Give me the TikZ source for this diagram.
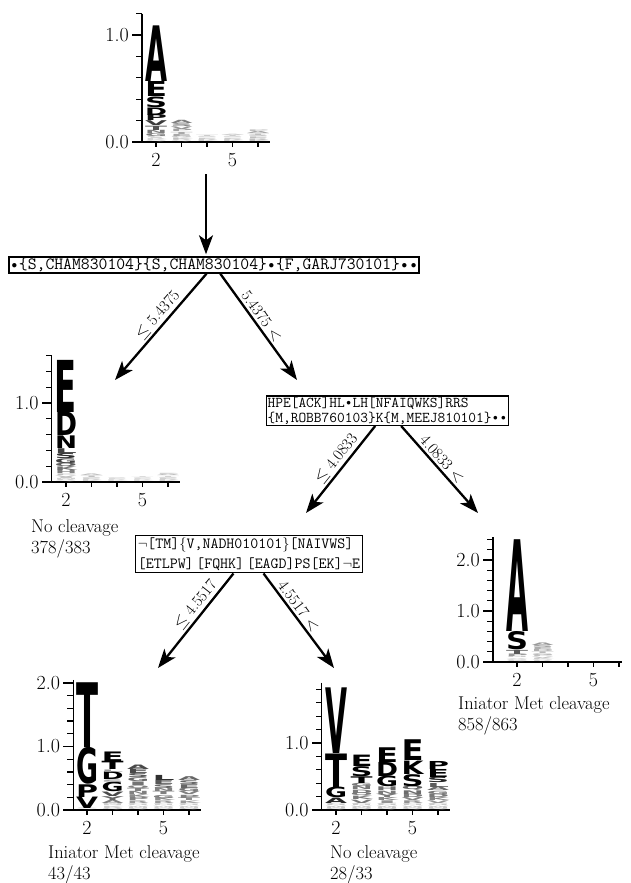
\documentclass[tikz,border=0pt]{standalone}
\usepackage{fontspec}
\usepackage{graphicx}
\usetikzlibrary{arrows.meta}
\newfontfamily\logofont{DejaVu Sans}

\newcommand{\wild}{\makebox[0.525em]{\raisebox{0.09em}{\scalebox{0.65}{$\bullet$}}}}
\newcommand{\logocol}[2]{%
  \gdef\ybase{0}%
  \foreach \res/\bits in {#2} {%
    \pgfmathsetlengthmacro\lh{\bits*\lu}%
    \pgfmathtruncatemacro\tone{min(100,max(15,16*\bits*\lu))}%
    \node[inner sep=0pt, anchor=south, text=black!\tone] at (#1,\ybase) {\resizebox*{22pt}{\lh}{\logofont\bfseries\res}};%
    \pgfmathparse{\ybase+\bits}\xdef\ybase{\pgfmathresult}%
  }}
\newcommand{\logoaxes}[5]{%
  \draw[axisline] (#1,#3) -- (#1,0) -- (#2,0);
  \foreach \k in {0,...,#4} \draw[axisline] (#1,\k/5) -- ++(-6pt,0);
  \foreach \v in {#5} {
    \draw[axisline] (#1,\v) -- ++(-10pt,0);
    \node[ticklab, anchor=east] at ([xshift=-12pt]#1,\v) {\v.0};}
  \foreach \c in {2,...,6} \draw[axisline] (\c,0) -- ++(0,-5pt);
  \foreach \c in {2,5} \node[ticklab] at ([yshift=-18pt]\c,0) {\c};}

\begin{document}
\begin{tikzpicture}[x=1pt, y=-1pt,
  rulebox/.style={draw, line width=1.5pt, inner sep=1pt, align=left, font=\ttfamily\fontsize{15}{15}\selectfont},
  split/.style={-{Stealth[length=19pt,width=14pt,inset=5pt]}, line width=2.3pt},
  cut/.style={sloped, above, pos=0.45, inner sep=2pt, font=\fontsize{16}{16}\selectfont},
  axisline/.style={line width=1.3pt},
  ticklab/.style={inner sep=1pt, font=\fontsize{20}{20}\selectfont},
  caption/.style={anchor=north west, align=left, inner sep=0pt, font=\fontsize{18.5}{21}\selectfont}]
\useasboundingbox (0,0) rectangle (630,883);

\begin{scope}[shift={(105pt,-142pt)}, x=25.5pt, y=107pt]
  \def\lu{107}
  \logoaxes{1.45}{6.47}{1.2}{6}{0,1}
  \logocol{2}{Q/.01,K/.01,R/.01,I/.01,L/.01,G/.03,N/.03,T/.04,V/.045,P/.055,D/.07,S/.1,E/.14,A/.52}
  \logocol{3}{Q/.01,R/.012,K/.015,G/.015,E/.02,T/.02,P/.022,V/.025,S/.028,A/.03}
  \logocol{4}{K/.012,R/.012,E/.012,S/.012,T/.012}
  \logocol{5}{K/.012,R/.012,E/.012,S/.012,T/.012,A/.012}
  \logocol{6}{K/.015,R/.015,E/.015,S/.015,T/.015,A/.02,P/.015}
\end{scope}

\begin{scope}[shift={(15pt,-482pt)}, x=25.5pt, y=79pt]
  \def\lu{79}
  \logoaxes{1.44}{6.47}{1.6}{8}{0,1}
  \logocol{2}{Q/.012,R/.015,M/.015,I/.018,V/.02,P/.02,H/.04,K/.045,Q/.05,G/.06,S/.065,L/.06,N/.16,D/.3,E/.66}
  \logocol{3}{K/.015,R/.015,E/.015,S/.015,T/.02,A/.02}
  \logocol{4}{K/.012,R/.012,E/.012,S/.012}
  \logocol{5}{K/.012,R/.012,E/.012,S/.012,T/.012}
  \logocol{6}{K/.015,R/.015,E/.015,S/.015,T/.015,A/.02,P/.015}
\end{scope}

\begin{scope}[shift={(466pt,-662pt)}, x=25.5pt, y=51pt]
  \def\lu{51}
  \logoaxes{1.06}{6.12}{2.45}{12}{0,1,2}
  \logocol{2}{Q/.015,K/.02,G/.02,V/.02,N/.025,P/.05,T/.08,S/.36,A/1.8}
  \logocol{3}{R/.02,Q/.02,K/.025,V/.03,P/.03,G/.035,T/.035,D/.04,E/.04,S/.045,A/.05}
\end{scope}

\begin{scope}[shift={(36pt,-810pt)}, x=25.5pt, y=63.5pt]
  \def\lu{63.5}
  \logoaxes{1.46}{6.47}{2.05}{10}{0,1,2}
  \logocol{2}{Q/.01,K/.01,V/.18,P/.2,G/.58,T/1.02}
  \logocol{3}{Q/.02,R/.02,K/.02,N/.02,M/.02,A/.05,Y/.06,V/.07,G/.15,S/.04,D/.12,L/.04,T/.13,E/.15}
  \logocol{4}{Q/.02,M/.02,W/.02,H/.02,C/.02,R/.04,P/.05,K/.045,N/.05,T/.05,Q/.05,I/.055,G/.06,S/.065,E/.07,A/.07}
  \logocol{5}{Q/.02,M/.02,W/.02,H/.02,C/.02,R/.04,K/.045,G/.05,T/.05,N/.05,S/.06,E/.065,L/.08}
  \logocol{6}{Q/.02,M/.02,W/.02,H/.02,C/.02,K/.04,T/.045,P/.05,V/.05,G/.055,E/.06,S/.06,A/.06}
\end{scope}

\begin{scope}[shift={(285pt,-810pt)}, x=25.5pt, y=67pt]
  \def\lu{67}
  \logoaxes{1.44}{6.47}{1.9}{9}{0,1}
  \logocol{2}{Q/.02,M/.02,W/.02,H/.02,C/.02,A/.08,G/.16,T/.5,V/.98}
  \logocol{3}{Q/.02,M/.02,W/.02,H/.02,C/.02,V/.05,K/.05,Q/.05,D/.05,N/.05,G/.05,T/.1,S/.15,E/.17}
  \logocol{4}{Q/.02,M/.02,W/.02,H/.02,C/.02,I/.04,K/.045,Y/.05,N/.05,H/.055,G/.16,D/.21,E/.22}
  \logocol{5}{Q/.02,M/.02,W/.02,H/.02,C/.02,R/.04,V/.045,D/.05,N/.055,Q/.06,S/.18,K/.2,E/.31}
  \logocol{6}{Q/.02,M/.02,W/.02,H/.02,C/.02,V/.04,K/.045,D/.05,G/.05,A/.055,L/.06,S/.08,E/.12,P/.12}
\end{scope}

\node[rulebox, inner sep=0.8pt, font=\ttfamily\fontsize{17.2}{17.2}\selectfont] (r1) at (214,265)
  {\wild\{S,CHAM830104\}\{S,CHAM830104\}\wild\{F,GARJ730101\}\wild\wild};
\node[rulebox] (r2) at (387.5,410.5)
  {HPE[ACK]HL\wild LH[NFAIQWKS]RRS\\\{M,ROBB760103\}K\{M,MEEJ810101\}\wild\wild};
\node[rulebox, inner sep=2.5pt, font=\ttfamily\fontsize{15.5}{19.5}\selectfont] (r3) at (249,554)
  {$\neg$[TM]$\{$V,NADH010101$\}$[NAIVWS]\\{}[ETLPW]\,[FQHK]\,[EAGD]PS[EK]$\neg$E};

\coordinate (c0) at (206,174);
\coordinate (e1l) at (115,380);
\coordinate (e1r) at (297,380);
\coordinate (e2l) at (306,513);
\coordinate (e2r) at (478,513);
\coordinate (e3l) at (158,668);
\coordinate (e3r) at (334,668);

\draw[split, shorten >=2pt] (c0) -- (c0 |- r1.north);
\draw[split] (r1) -- node[cut] {$\leq$ 5.4375} (e1l);
\draw[split] (r1) -- node[cut] {5.4375 $<$} (e1r);
\draw[split] (r2) -- node[cut] {$\leq$ 4.0833} (e2l);
\draw[split] (r2) -- node[cut] {4.0833 $<$} (e2r);
\draw[split] (r3) -- node[cut, pos=0.4] {$\leq$ 4.5517} (e3l);
\draw[split] (r3) -- node[cut, pos=0.4] {4.5517 $<$} (e3r);

\node[caption] (cap1) at (31,519) {No cleavage\\378/383};
\node[caption] (cap2) at (458,696) {Iniator Met cleavage\\858/863};
\node[caption] (cap3) at (48,845) {Iniator Met cleavage\\43/43};
\node[caption] (cap4) at (330,845) {No cleavage\\28/33};
\end{tikzpicture}
\end{document}
